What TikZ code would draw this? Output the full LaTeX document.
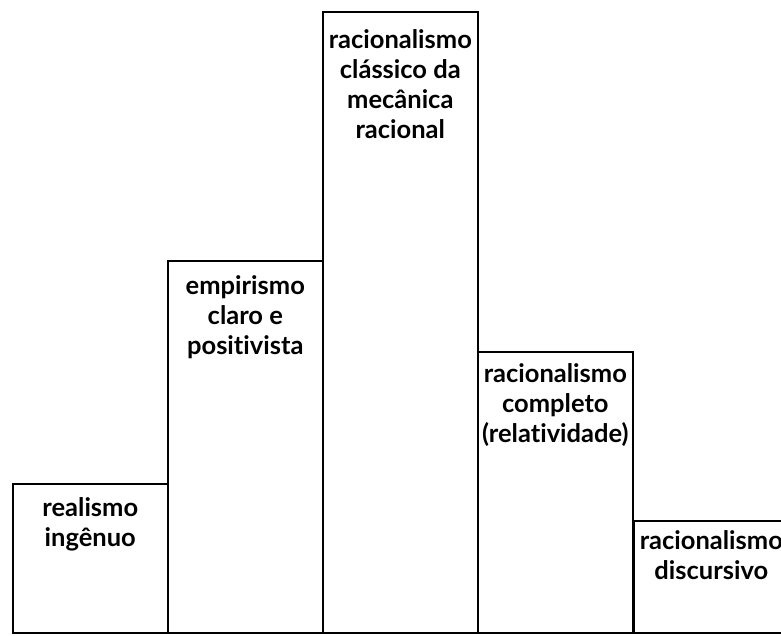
\documentclass[tikz,border=0pt]{standalone}
\usepackage{fontspec}
\setmainfont[Ligatures=NoCommon]{Lato}
\tikzset{
  bar/.style={draw=black,line width=1.6pt,minimum width=155pt,inner sep=0pt,anchor=south west},
  lbl/.style={anchor=north,align=center,inner sep=0pt,font=\bfseries\fontsize{25.5}{30}\selectfont}
}
\begin{document}
\begin{tikzpicture}[x=1pt,y=1pt]
    \useasboundingbox (0,0) rectangle (781,636);
    \clip (0,0) rectangle (781,636);
    \foreach \n/\x/\h/\dy/\t in {1/12/149/14/{realismo\\ingênuo},
                                2/167/372/15/{empirismo\\claro e\\positivista},
                                3/322/621/18/{racionalismo\\clássico da\\mecânica\\racional},
                                4/477/281/12/{racionalismo\\completo\\(relatividade)},
                                5/633/112/10/{racionalismo\\discursivo}}{
        \node[bar,minimum height=\h pt] at (\x,2) (bar\n) {};
        \node[lbl] at ([yshift=-\dy pt]bar\n.north) (txt\n) {\t};
    }
\end{tikzpicture}
\end{document}
